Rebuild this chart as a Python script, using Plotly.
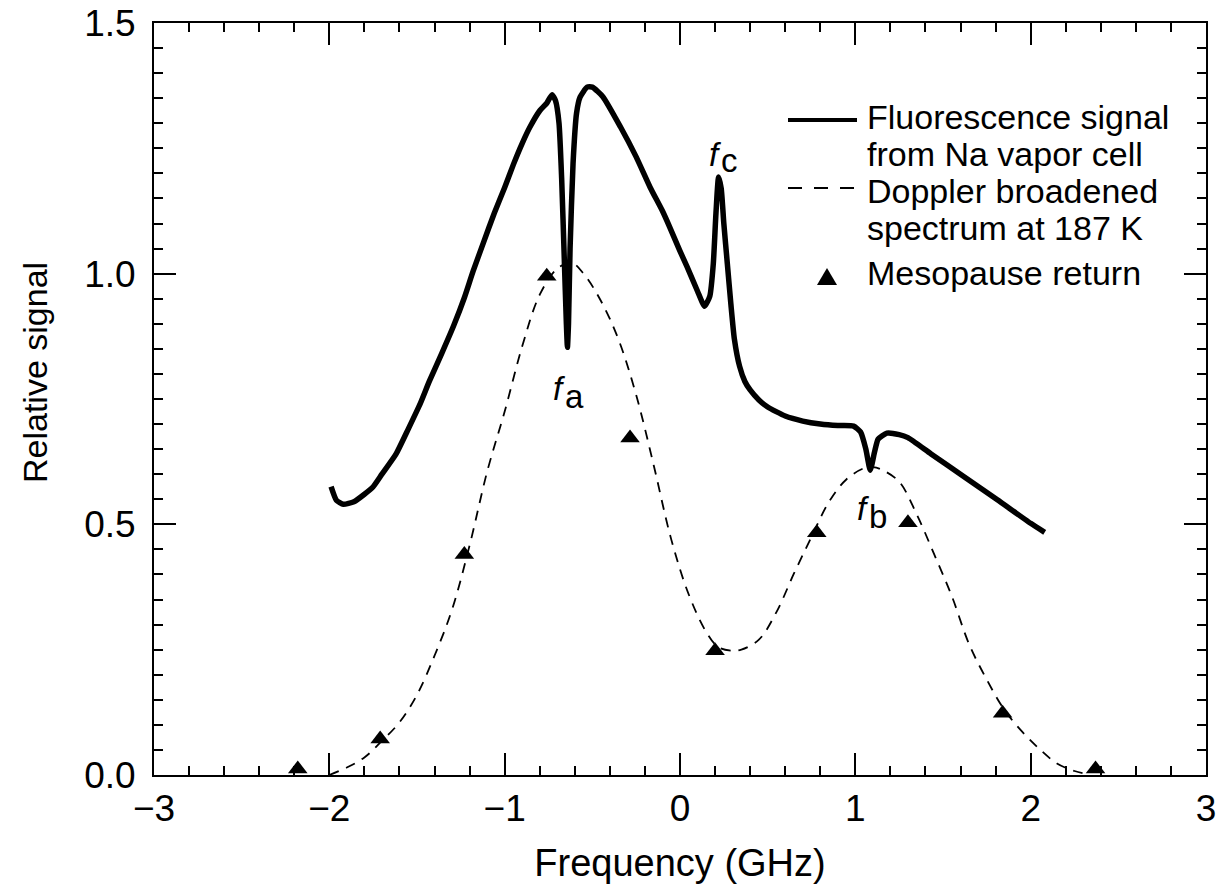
import plotly.graph_objects as go

# Fluorescence signal from Na vapor cell (solid)
fluor_x = [-1.99, -1.96, -1.92, -1.86, -1.80, -1.75, -1.70, -1.62, -1.55, -1.48, -1.43, -1.36,
           -1.29, -1.23, -1.18, -1.12, -1.06, -1.00, -0.95, -0.90, -0.855, -0.80, -0.76, -0.73,
           -0.71, -0.69, -0.675, -0.66, -0.648, -0.642, -0.636, -0.627, -0.61, -0.59, -0.57,
           -0.53, -0.50, -0.44, -0.34, -0.25, -0.17, -0.10, -0.06, 0.00, 0.04, 0.10, 0.14,
           0.17, 0.19, 0.205, 0.22, 0.235, 0.25, 0.27, 0.29, 0.31, 0.34, 0.37, 0.40, 0.45,
           0.50, 0.60, 0.70, 0.80, 0.90, 0.99, 1.03, 1.06, 1.085, 1.11, 1.13, 1.18, 1.25,
           1.30, 1.43, 1.62, 1.81, 2.00, 2.08]
fluor_y = [0.575, 0.548, 0.540, 0.545, 0.560, 0.575, 0.600, 0.640, 0.690, 0.742, 0.785, 0.840,
           0.897, 0.952, 1.005, 1.063, 1.120, 1.172, 1.218, 1.260, 1.293, 1.325, 1.340, 1.357,
           1.345, 1.300, 1.190, 1.030, 0.900, 0.853, 0.900, 1.050, 1.220, 1.320, 1.352,
           1.372, 1.372, 1.353, 1.293, 1.233, 1.172, 1.125, 1.094, 1.045, 1.014, 0.965, 0.935,
           0.955, 1.020, 1.120, 1.193, 1.170, 1.100, 1.020, 0.940, 0.870, 0.815, 0.785, 0.768, 0.748,
           0.734, 0.716, 0.706, 0.700, 0.697, 0.696, 0.684, 0.650, 0.608, 0.645, 0.670, 0.682, 0.679,
           0.673, 0.641, 0.595, 0.549, 0.502, 0.484]

# Doppler broadened spectrum at 187 K (dashed)
dopp_x = [-2.00, -1.90, -1.80, -1.70, -1.60, -1.50, -1.40, -1.30, -1.20, -1.10, -1.00, -0.90,
          -0.80, -0.70, -0.62, -0.55, -0.45, -0.35, -0.25, -0.15, -0.05, 0.05, 0.15, 0.22,
          0.30, 0.35, 0.45, 0.55, 0.65, 0.75, 0.85, 0.95, 1.05, 1.10, 1.15, 1.25, 1.35, 1.45,
          1.55, 1.65, 1.75, 1.85, 1.95, 2.05, 2.15, 2.25, 2.32]
dopp_y = [0.000, 0.015, 0.035, 0.068, 0.105, 0.160, 0.238, 0.330, 0.458, 0.605, 0.725, 0.855,
          0.958, 1.010, 1.022, 1.000, 0.945, 0.868, 0.758, 0.618, 0.470, 0.360, 0.285, 0.255,
          0.248, 0.250, 0.270, 0.325, 0.402, 0.475, 0.545, 0.590, 0.612, 0.614, 0.609, 0.585,
          0.520, 0.440, 0.357, 0.260, 0.190, 0.130, 0.087, 0.052, 0.023, 0.008, 0.002]

# Mesopause return (triangles)
meso_x = [-2.18, -1.71, -1.23, -0.76, -0.285, 0.20, 0.78, 1.30, 1.84, 2.37]
meso_y = [0.012, 0.072, 0.440, 0.995, 0.672, 0.248, 0.483, 0.503, 0.123, 0.012]

# Line labels f_a, f_b, f_c  (italic f to the left of x, letter to the right)
label_sub = ["a", "b", "c"]
label_x = [-0.655, 1.079, 0.2345]
label_f_y = [0.771, 0.531, 1.238]
label_sub_y = [0.755, 0.515, 1.226]

# Legend entries (text lines)
legend_lines = ["Fluorescence signal", "from Na vapor cell", "Doppler broadened",
                "spectrum at 187 K", "Mesopause return"]

FONT = "Liberation Sans, Arial, Helvetica, sans-serif"
FS_TICK = 37
FS_XTITLE = 38
FS_YTITLE = 34
FS_LEG = 34
FS_LAB = 33

# plot-area geometry (pixels) used for paper-coordinate placement of legend / titles
L, R, T, B = 154, 1206, 23, 775
W, H = R - L, B - T


def px(xp):
    return (xp - L) / W


def py(yp):
    return (B - yp) / H


fig = go.Figure()
fig.add_trace(go.Scatter(x=fluor_x, y=fluor_y, mode="lines",
                         line=dict(color="black", width=5.5, shape="spline", smoothing=0.5),
                         name="Fluorescence signal", showlegend=False))
fig.add_trace(go.Scatter(x=dopp_x, y=dopp_y, mode="lines",
                         line=dict(color="black", width=1.8, dash="10px,8px", shape="spline"),
                         name="Doppler broadened spectrum at 187 K", showlegend=False))
fig.add_trace(go.Scatter(x=meso_x, y=meso_y, mode="markers",
                         marker=dict(symbol="triangle-up", size=17, color="black"),
                         name="Mesopause return", showlegend=False))

for t, lx, fy, sy in zip(label_sub, label_x, label_f_y, label_sub_y):
    fig.add_annotation(x=lx, y=fy, text="<i>f</i>", showarrow=False, borderpad=0, xshift=2,
                       font=dict(family=FONT, size=FS_LAB, color="black"),
                       xanchor="right", yanchor="middle")
    fig.add_annotation(x=lx, y=sy, text=t, showarrow=False, borderpad=0, xshift=-1,
                       font=dict(family=FONT, size=FS_LAB, color="black"),
                       xanchor="left", yanchor="middle")

# manual legend (two-line entries, symbol aligned with first line)
leg_text_y = [117, 154, 191, 228, 273]
for txt, ty in zip(legend_lines, leg_text_y):
    fig.add_annotation(xref="paper", yref="paper", x=px(866), y=py(ty), text=txt,
                       showarrow=False, xanchor="left", yanchor="middle", borderpad=0,
                       font=dict(family=FONT, size=FS_LEG, color="black"))
fig.add_shape(type="line", xref="paper", yref="paper",
              x0=px(788), x1=px(857), y0=py(120), y1=py(120),
              line=dict(color="black", width=4))
fig.add_shape(type="line", xref="paper", yref="paper",
              x0=px(788), x1=px(857), y0=py(188), y1=py(188),
              line=dict(color="black", width=2, dash="14px,12px"))
fig.add_shape(type="path", xref="paper", yref="paper",
              path="M %f,%f L %f,%f L %f,%f Z" % (px(827), py(268), px(817), py(285),
                                                  px(837), py(285)),
              fillcolor="black", line=dict(color="black", width=0))

# y axis title (placed like the reference, slightly above the axis middle)
fig.add_annotation(xref="paper", yref="paper", x=px(35), y=py(373), text="Relative signal",
                   textangle=-90, showarrow=False, xanchor="center", yanchor="middle",
                   font=dict(family=FONT, size=FS_YTITLE, color="black"))

axis_common = dict(
    showline=True, linecolor="black", linewidth=2, mirror="allticks",
    ticks="inside", ticklen=22, tickwidth=2, tickcolor="black",
    showgrid=False, zeroline=False, automargin=False,
    tickfont=dict(family=FONT, size=FS_TICK, color="black"),
)
fig.update_xaxes(range=[-3, 3], dtick=1, tick0=0,
                 minor=dict(dtick=0.2, ticklen=9, tickwidth=2, tickcolor="black", ticks="inside", showgrid=False),
                 title=dict(text="Frequency (GHz)", font=dict(family=FONT, size=FS_XTITLE, color="black"), standoff=21),
                 ticklabelstandoff=0,
                 **axis_common)
fig.update_yaxes(range=[0, 1.5], dtick=0.5, tick0=0, tickformat=".1f",
                 minor=dict(dtick=0.05, ticklen=9, tickwidth=2, tickcolor="black", ticks="inside", showgrid=False),
                 ticklabelstandoff=9,
                 **axis_common)

fig.update_layout(
    width=1232, height=892,
    margin=dict(l=L, r=1232 - R, t=T, b=892 - B),
    paper_bgcolor="white", plot_bgcolor="white",
    font=dict(family=FONT, size=FS_TICK, color="black"),
    showlegend=False,
)

fig.write_html("out.html")
